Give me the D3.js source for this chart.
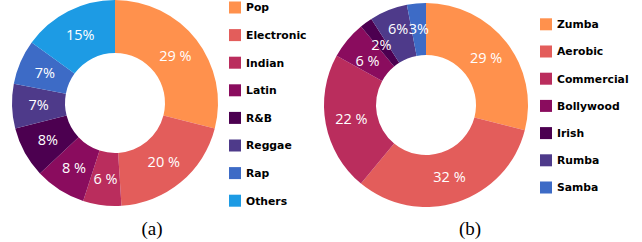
<!DOCTYPE html>
<html>
<head>
<meta charset="utf-8">
<script src="https://cdn.jsdelivr.net/npm/d3@7"></script>
<style>
  body { margin: 0; background: #fff; }
  svg { display: block; }
  .slice-label { fill: #fff; font-family: "Open Sans", sans-serif; font-size: 14.5px; }
  .legend-label { fill: #000; font-family: "DejaVu Sans", sans-serif; font-weight: 700; font-size: 10.8px; }
  .caption { fill: #000; font-family: "Liberation Serif", "Times New Roman", serif; font-size: 19px; }
</style>
</head>
<body>
<div id="chart"></div>
<script>
"use strict";

// (a) genres
var genreNames = ["Pop", "Electronic", "Indian", "Latin", "R&B", "Reggae", "Rap", "Others"];
var genreValues = [29, 20, 6, 8, 8, 7, 7, 15];
var genreLabels = ["29 %", "20 %", "6 %", "8 %", "8%", "7%", "7%", "15%"];

// (b) dance styles
var danceNames = ["Zumba", "Aerobic", "Commercial", "Bollywood", "Irish", "Rumba", "Samba"];
var danceValues = [29, 32, 22, 6, 2, 6, 3];
var danceLabels = ["29 %", "32 %", "22 %", "6 %", "2%", "6%", "3%"];

var palette = ["#ff914d", "#e35d5b", "#ba2d5d", "#8a0c5e", "#4c0050", "#4e3a8a", "#3d6bc6", "#1d9be4"];

var svg = d3.select("#chart").append("svg")
  .attr("width", 642)
  .attr("height", 242);

function drawDonut(opts) {
  var color = d3.scaleOrdinal().domain(opts.names).range(palette);

  var pie = d3.pie().sort(null).value(function(d) { return d.value; });
  var arc = d3.arc().innerRadius(opts.inner).outerRadius(opts.outer);

  var data = opts.names.map(function(n, i) {
    return { name: n, value: opts.values[i], label: opts.labels[i] };
  });

  var g = svg.append("g")
    .attr("transform", "translate(" + opts.cx + "," + opts.cy + ")");

  var arcs = pie(data);

  g.selectAll("path")
    .data(arcs)
  .enter().append("path")
    .attr("d", arc)
    .attr("fill", function(d) { return color(d.data.name); });

  // start labels at the slice centroid
  arcs.forEach(function(d) {
    var c = arc.centroid(d);
    d.lx = c[0];
    d.ly = c[1];
  });

  var labels = g.selectAll("text")
    .data(arcs)
  .enter().append("text")
    .attr("class", "slice-label")
    .attr("text-anchor", "middle")
    .attr("dy", "0.35em")
    .text(function(d) { return d.data.label; })
    .each(function(d) { d.w = this.getComputedTextLength(); });

  // push crowded labels apart a little (small slices on chart b)
  var minGap = 16;
  for (var iter = 0; iter < 30; iter++) {
    for (var i = 0; i < arcs.length; i++) {
      for (var j = i + 1; j < arcs.length; j++) {
        var a = arcs[i], b = arcs[j];
        var overlapX = (a.w + b.w) / 2 - Math.abs(a.lx - b.lx);
        var dy = b.ly - a.ly;
        if (overlapX > 0 && Math.abs(dy) < minGap) {
          var push = (minGap - Math.abs(dy)) / 2;
          var sgn = dy >= 0 ? 1 : -1;
          a.ly -= push * sgn;
          b.ly += push * sgn;
        }
      }
    }
  }

  labels.attr("transform", function(d) { return "translate(" + d.lx + "," + d.ly + ")"; });

  // legend
  var legendY = d3.scalePoint()
    .domain(opts.names)
    .range([opts.legendTop, opts.legendTop + opts.legendStep * (opts.names.length - 1)]);

  var legend = svg.append("g")
    .selectAll("g")
    .data(opts.names)
  .enter().append("g")
    .attr("transform", function(d) { return "translate(" + opts.legendX + "," + legendY(d) + ")"; });

  legend.append("rect")
    .attr("x", 0)
    .attr("y", -6)
    .attr("width", 12)
    .attr("height", 12)
    .attr("fill", function(d) { return color(d); });

  legend.append("text")
    .attr("class", "legend-label")
    .attr("x", 17)
    .attr("dy", "0.36em")
    .text(function(d) { return d; });

  svg.append("text")
    .attr("class", "caption")
    .attr("x", opts.captionX)
    .attr("y", 235)
    .attr("text-anchor", "middle")
    .text(opts.caption);
}

drawDonut({
  names: genreNames, values: genreValues, labels: genreLabels,
  cx: 115, cy: 103, inner: 50, outer: 103,
  legendX: 229, legendTop: 7.5, legendStep: 27.6,
  captionX: 152, caption: "(a)"
});

drawDonut({
  names: danceNames, values: danceValues, labels: danceLabels,
  cx: 426, cy: 105, inner: 50, outer: 102,
  legendX: 540, legendTop: 24.3, legendStep: 27.2,
  captionX: 470, caption: "(b)"
});
</script>
</body>
</html>
